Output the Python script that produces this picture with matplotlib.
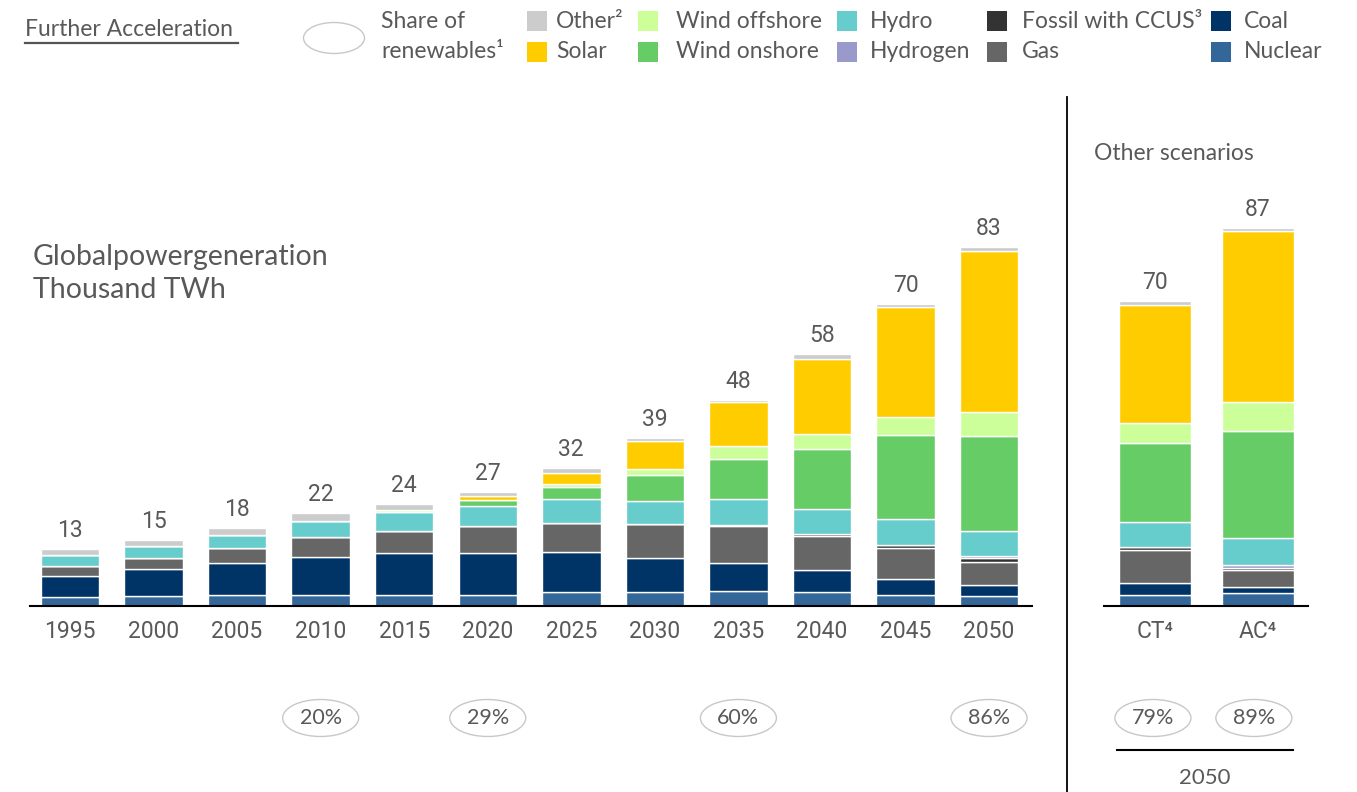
import matplotlib
matplotlib.use("Agg")
from matplotlib import pyplot as plt
from matplotlib.patches import Ellipse, Rectangle
from matplotlib.transforms import blended_transform_factory

# ---- data (thousand TWh) ----
years = ["1995", "2000", "2005", "2010", "2015", "2020",
         "2025", "2030", "2035", "2040", "2045", "2050"]
totals = [13, 15, 18, 22, 24, 27, 32, 39, 48, 58, 70, 83]

nuclear = [2.0, 2.4, 2.6, 2.6, 2.5, 2.6, 3.2, 3.3, 3.5, 3.2, 2.6, 2.4]
coal = [5.0, 6.2, 7.3, 8.8, 9.7, 9.6, 9.3, 7.8, 6.5, 5.1, 3.7, 2.5]
gas = [2.3, 2.5, 3.4, 4.5, 5.2, 6.3, 6.7, 7.8, 8.5, 7.8, 7.2, 5.3]
ccus = [0, 0, 0, 0, 0, 0, 0, 0, 0.2, 0.5, 0.6, 0.8]
hydrogen = [0, 0, 0, 0, 0, 0, 0, 0, 0, 0, 0, 0.5]
hydro = [2.5, 2.8, 3.0, 3.8, 4.2, 4.6, 5.5, 5.3, 5.9, 5.8, 5.9, 5.8]
wind_on = [0, 0, 0, 0, 0, 1.4, 2.8, 6.0, 9.3, 13.9, 19.4, 22.0]
wind_off = [0, 0, 0, 0, 0.6, 0, 0.7, 1.4, 3.0, 3.5, 4.3, 5.5]
solar = [0, 0, 0, 0, 0, 0.8, 2.5, 6.5, 10.2, 17.3, 25.3, 37.2]
other = [1.3, 1.3, 1.7, 1.8, 1.4, 1.0, 1.1, 0.8, 0.5, 1.0, 0.8, 1.0]

share_years = ["2010", "2020", "2035", "2050"]
share_values = ["20%", "29%", "60%", "86%"]

scenarios = ["CT\u2074", "AC\u2074"]
sc_totals = [70, 87]
sc_nuclear = [2.5, 3.1]
sc_coal = [2.7, 1.2]
sc_gas = [7.8, 3.9]
sc_ccus = [0.6, 0.5]
sc_hydrogen = [0.0, 0.7]
sc_hydro = [5.9, 6.3]
sc_wind_on = [18.1, 24.7]
sc_wind_off = [4.7, 6.7]
sc_solar = [27.3, 39.4]
sc_other = [0.9, 0.9]
sc_share = ["79%", "89%"]

colors = {
    "Nuclear": "#336699", "Coal": "#003366", "Gas": "#666666",
    "Fossil with CCUS\u00b3": "#333333", "Hydrogen": "#9999cc",
    "Hydro": "#66cccc", "Wind onshore": "#66cc66",
    "Wind offshore": "#ccff99", "Solar": "#ffcc00", "Other\u00b2": "#cccccc",
}

W, H = 1357, 792
TXT = "#595959"
LFONT = ["Lato", "DejaVu Sans"]
NFONT = ["Roboto", "DejaVu Sans"]


def fx(x):
    return x / W


def fy(y):
    return 1 - y / H


fig = plt.figure(figsize=(W / 100, H / 100), dpi=100)


def stack(ax, xs, series, width):
    bottom = [0.0] * len(xs)
    for name, vals in series:
        ax.bar(xs, vals, width, bottom=bottom, color=colors[name],
               edgecolor="white", linewidth=1.0)
        bottom = [b + v for b, v in zip(bottom, vals)]
    return bottom


def style(ax):
    for s in ("top", "right", "left"):
        ax.spines[s].set_visible(False)
    ax.spines["bottom"].set_color("black")
    ax.spines["bottom"].set_linewidth(1.5)
    ax.set_yticks([])
    ax.set_ylim(0, 100)
    ax.tick_params(axis="x", length=0, pad=10, labelsize=16.5, labelcolor=TXT)
    for lab in ax.get_xticklabels():
        lab.set_fontfamily(NFONT)


# ---- main chart ----
step = 83.55
ax = fig.add_axes([fx(30), fy(606), fx(1002), 433 / H])
xs = list(range(len(years)))
tops = stack(ax, xs, [
    ("Nuclear", nuclear), ("Coal", coal), ("Gas", gas),
    ("Fossil with CCUS\u00b3", ccus), ("Hydrogen", hydrogen),
    ("Hydro", hydro), ("Wind onshore", wind_on),
    ("Wind offshore", wind_off), ("Solar", solar), ("Other\u00b2", other),
], 0.7)
ax.set_xlim((30 - 70) / step, (1032 - 70) / step)
ax.set_xticks(xs)
ax.set_xticklabels(years)
style(ax)
for x, t, lab in zip(xs, tops, totals):
    ax.annotate(str(lab), (x, t), xytext=(0, 5), textcoords="offset points",
                ha="center", va="bottom", fontsize=16.5, color=TXT,
                family=NFONT)

tr = blended_transform_factory(ax.transData, fig.transFigure)
for yr, val in zip(share_years, share_values):
    x = years.index(yr)
    ax.add_patch(Ellipse((x, fy(718)), 76 / step, 37 / H, transform=tr,
                         facecolor="none", edgecolor="#c8c8c8", lw=1.0,
                         clip_on=False))
    ax.text(x, fy(718), val, transform=tr, ha="center", va="center",
            fontsize=15.5, color=TXT, family=LFONT)

# ---- other scenarios ----
sstep = 103.0
ax2 = fig.add_axes([fx(1104), fy(606), fx(204), 433 / H])
sx = [0, 1]
stops = stack(ax2, sx, [
    ("Nuclear", sc_nuclear), ("Coal", sc_coal), ("Gas", sc_gas),
    ("Fossil with CCUS\u00b3", sc_ccus), ("Hydrogen", sc_hydrogen),
    ("Hydro", sc_hydro), ("Wind onshore", sc_wind_on),
    ("Wind offshore", sc_wind_off), ("Solar", sc_solar), ("Other\u00b2", sc_other),
], 72 / sstep)
ax2.set_xlim((1104 - 1155) / sstep, (1308 - 1155) / sstep)
ax2.set_xticks(sx)
ax2.set_xticklabels(scenarios)
style(ax2)
for x, t, lab in zip(sx, stops, sc_totals):
    ax2.annotate(str(lab), (x, t), xytext=(0, 5), textcoords="offset points",
                 ha="center", va="bottom", fontsize=16.5, color=TXT,
                 family=NFONT)
tr2 = blended_transform_factory(ax2.transData, fig.transFigure)
for x, val in zip(sx, sc_share):
    xc = x - 0.02 * (x + 1)
    ax2.add_patch(Ellipse((xc, fy(718)), 76 / sstep, 37 / H, transform=tr2,
                          facecolor="none", edgecolor="#c8c8c8", lw=1.0,
                          clip_on=False))
    ax2.text(xc, fy(718), val, transform=tr2, ha="center", va="center",
             fontsize=15.5, color=TXT, family=LFONT)

# separators and headings
fig.add_artist(plt.Line2D([fx(1067), fx(1067)], [fy(97), 0], color="black", lw=1.3))
fig.add_artist(plt.Line2D([fx(1117), fx(1293)], [fy(750), fy(750)], color="black", lw=1.5))
fig.text(fx(1205), fy(778), "2050", ha="center", va="center", fontsize=16,
         color=TXT, family=LFONT)
fig.text(fx(1094), fy(154), "Other scenarios", ha="left", va="center",
         fontsize=16.5, color=TXT, family=LFONT)
fig.text(fx(33), fy(257), "Globalpowergeneration", ha="left", va="center",
         fontsize=20.5, color=TXT, family=LFONT)
fig.text(fx(33), fy(290), "Thousand TWh", ha="left", va="center",
         fontsize=20.5, color=TXT, family=LFONT)

fig.text(fx(25), fy(29), "Further Acceleration", ha="left", va="center",
         fontsize=16.5, color=TXT, family=LFONT)
fig.add_artist(plt.Line2D([fx(25), fx(238)], [fy(43), fy(43)], color="#555555", lw=1.6))

# ---- legend ----
fig.add_artist(Ellipse((fx(334), fy(38)), fx(61), 31 / H, transform=fig.transFigure,
                       facecolor="none", edgecolor="#c8c8c8", lw=1.0))
fig.text(fx(381), fy(21), "Share of", ha="left", va="center", fontsize=16.5,
         color=TXT, family=LFONT)
fig.text(fx(381), fy(52), "renewables\u00b9", ha="left", va="center", fontsize=16.5,
         color=TXT, family=LFONT)

legend_items = [
    ("Other\u00b2", 527, 556, 21), ("Solar", 527, 556, 52),
    ("Wind offshore", 638, 676, 21), ("Wind onshore", 638, 676, 52),
    ("Hydro", 837, 870, 21), ("Hydrogen", 837, 870, 52),
    ("Fossil with CCUS\u00b3", 987, 1022, 21), ("Gas", 987, 1022, 52),
    ("Coal", 1211, 1244, 21), ("Nuclear", 1211, 1244, 52),
]
for name, xr, xt, y in legend_items:
    fig.add_artist(Rectangle((fx(xr), fy(y + 10)), fx(20), 20 / H,
                             transform=fig.transFigure, color=colors[name], lw=0))
    fig.text(fx(xt), fy(y), name, ha="left", va="center", fontsize=16.5,
             color=TXT, family=LFONT)

fig.savefig("out.png", dpi=100)
